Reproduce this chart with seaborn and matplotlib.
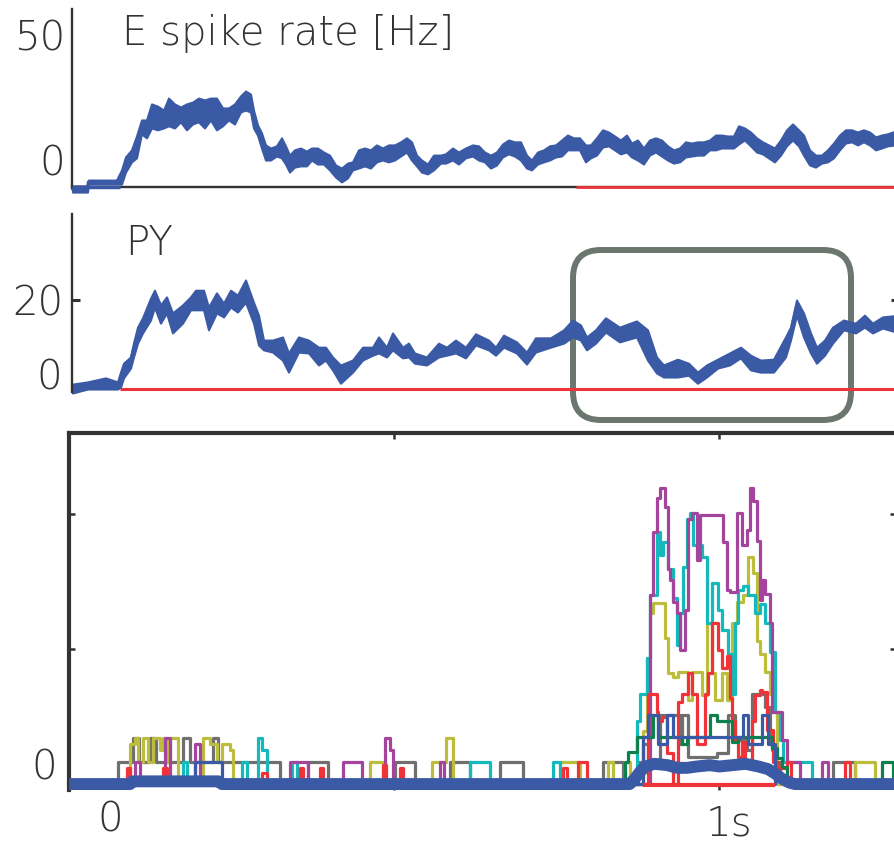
import matplotlib
matplotlib.use("Agg")
import matplotlib.pyplot as plt
import seaborn as sns
import numpy as np
import pandas as pd
from matplotlib.patches import FancyBboxPatch
from matplotlib.transforms import IdentityTransform

# ---------------- data ----------------
# top panel: E spike rate, min/max envelope of the noisy trace (time in ms, rate in Hz)
e_t = [0, 15, 16, 44, 49, 53, 59, 64, 69, 74,
       79, 85, 91, 96, 102, 108, 114, 120, 126, 132,
       138, 144, 150, 156, 162, 168, 173, 178, 181, 185,
       189, 193, 198, 204, 209, 213, 217, 222, 228, 234,
       239, 245, 251, 257, 263, 269, 275, 280, 286, 292,
       298, 304, 310, 316, 322, 328, 334, 339, 344, 349,
       355, 361, 368, 373, 380, 386, 393, 400, 406, 412,
       418, 424, 430, 436, 442, 448, 454, 459, 465, 471,
       477, 483, 489, 495, 501, 507, 513, 518, 524, 530,
       536, 542, 548, 554, 559, 565, 571, 577, 583, 589,
       595, 601, 607, 613, 619, 625, 631, 637, 643, 649,
       655, 661, 666, 672, 678, 684, 690, 696, 702, 708,
       714, 720, 726, 731, 737, 743, 749, 755, 761, 767,
       773, 779, 785, 791, 797, 803, 809, 815, 823]
e_hi = [1.0, 1.0, 2.9, 2.9, 6.2, 10.4, 12.7, 17.2, 22.4, 22.4,
        27.6, 26.9, 25.6, 29.5, 27.6, 26.6, 27.6, 28.2, 29.5, 28.9,
        29.5, 29.5, 26.3, 26.3, 27.6, 30.2, 31.8, 30.8, 25.6, 20.8,
        18.2, 14.3, 13.3, 14.0, 16.6, 14.0, 11.0, 12.7, 13.3, 12.3,
        13.3, 13.3, 12.0, 11.0, 7.8, 6.8, 8.4, 8.8, 12.7, 13.3,
        12.7, 14.3, 13.3, 14.3, 14.3, 15.3, 16.6, 15.3, 11.0, 9.4,
        8.1, 11.0, 11.0, 11.4, 13.3, 12.0, 13.3, 14.3, 14.0, 12.0,
        11.0, 12.0, 14.6, 15.9, 15.3, 15.3, 11.0, 9.4, 12.0, 12.7,
        14.0, 14.3, 15.9, 17.5, 16.6, 16.6, 14.3, 14.3, 16.6, 19.2,
        18.5, 17.2, 15.9, 17.5, 14.9, 15.9, 13.3, 15.9, 16.6, 15.9,
        14.0, 12.7, 13.3, 15.3, 14.9, 15.3, 15.3, 15.9, 17.5, 17.5,
        17.2, 17.2, 20.5, 19.8, 18.5, 16.6, 15.3, 14.3, 13.3, 15.9,
        19.2, 21.1, 19.2, 17.5, 12.7, 11.0, 11.0, 12.7, 14.9, 17.5,
        19.2, 19.2, 18.5, 19.2, 18.5, 16.9, 17.5, 17.9, 18.8]
e_lo = [-1.0, -1.0, 1.6, 1.6, 1.6, 5.5, 8.8, 10.1, 17.9, 16.6,
        19.8, 19.2, 19.8, 20.5, 19.8, 21.8, 19.2, 21.1, 21.8, 19.8,
        22.4, 19.2, 20.5, 22.4, 21.1, 25.0, 25.6, 25.0, 19.8, 17.5,
        13.3, 9.4, 9.4, 10.7, 10.1, 8.1, 5.5, 7.1, 7.5, 7.5,
        9.4, 8.1, 8.1, 6.2, 3.9, 2.3, 3.6, 6.2, 6.8, 7.5,
        6.8, 8.8, 9.4, 8.8, 9.4, 10.7, 12.0, 9.4, 7.5, 5.5,
        4.9, 6.2, 8.4, 8.4, 9.4, 8.1, 10.1, 10.7, 9.4, 8.8,
        6.8, 7.8, 10.4, 11.4, 10.7, 9.4, 6.8, 6.2, 8.1, 8.8,
        9.4, 10.4, 10.7, 12.7, 12.7, 12.7, 8.8, 10.1, 11.0, 13.6,
        14.0, 12.7, 11.4, 12.0, 10.4, 9.4, 8.1, 11.0, 12.0, 10.7,
        9.4, 8.4, 8.8, 10.4, 10.7, 11.0, 11.0, 12.7, 12.7, 13.3,
        13.3, 13.3, 14.6, 15.9, 14.0, 12.0, 11.4, 10.1, 8.8, 11.0,
        14.0, 15.9, 14.0, 11.0, 7.8, 7.1, 8.4, 8.8, 10.1, 12.7,
        14.9, 15.3, 14.3, 15.3, 14.3, 12.7, 13.3, 14.0, 14.3]
e_pre_end = 48      # blue marker on the time axis
e_stim_on = 504     # red marker on the time axis

# middle panel: PY rate envelope (ms, Hz)
py_t = [0, 15, 33, 45, 48, 51, 58, 61, 65, 70,
        78, 82, 88, 94, 100, 110, 118, 123, 131, 136,
        144, 151, 158, 165, 173, 181, 186, 191, 200, 210,
        216, 226, 236, 246, 253, 260, 268, 280, 290, 300,
        306, 314, 320, 330, 336, 342, 354, 366, 374, 383,
        393, 403, 416, 423, 431, 444, 454, 463, 478, 491,
        500, 508, 514, 523, 533, 547, 564, 575, 584, 591,
        605, 616, 625, 634, 645, 657, 668, 678, 688, 701,
        713, 718, 724, 731, 738, 744, 752, 760, 771, 783,
        792, 800, 810, 827]
py_hi = [1.1, 1.6, 2.5, 1.6, 3.8, 5.8, 7.2, 10.3, 13.9, 16.0,
         20.4, 22.2, 18.9, 20.7, 17.1, 18.9, 20.7, 22.2, 22.2, 18.4,
         21.6, 19.3, 22.2, 21.1, 24.5, 19.5, 16.6, 11.0, 11.0, 11.7,
         8.1, 11.7, 11.0, 9.4, 9.4, 7.2, 5.4, 6.5, 9.4, 9.4,
         11.7, 9.4, 12.6, 9.4, 10.3, 8.1, 7.2, 10.3, 9.4, 11.0,
         9.4, 12.4, 11.0, 9.4, 12.1, 10.6, 8.3, 11.5, 11.5, 13.3,
         15.5, 14.4, 11.7, 13.3, 16.0, 13.9, 15.3, 13.3, 7.2, 5.4,
         6.7, 5.8, 3.8, 5.4, 6.7, 8.1, 9.4, 7.6, 6.5, 6.7,
         11.7, 13.9, 20.0, 17.1, 12.6, 9.4, 11.0, 13.9, 15.5, 14.8,
         16.6, 14.8, 16.2, 16.6]
py_lo = [-0.9, 0.0, 0.0, 0.0, 0.4, 2.5, 4.7, 7.2, 10.3, 12.6,
         15.5, 18.4, 14.8, 17.1, 12.6, 14.8, 17.8, 17.8, 17.8, 13.3,
         17.1, 16.2, 18.4, 17.3, 19.5, 14.8, 9.9, 8.8, 8.3, 6.5,
         3.8, 8.3, 8.1, 5.4, 6.5, 4.3, 1.3, 3.8, 6.5, 7.6,
         8.1, 7.2, 8.8, 7.0, 7.2, 5.8, 5.4, 7.2, 7.6, 8.1,
         7.0, 9.9, 8.8, 7.6, 9.4, 8.1, 5.6, 8.3, 9.4, 10.3,
         11.7, 11.0, 8.8, 10.3, 12.8, 10.6, 11.7, 6.5, 3.6, 2.7,
         2.7, 3.1, 1.3, 2.7, 4.7, 5.4, 7.0, 4.3, 3.8, 3.8,
         7.2, 11.0, 16.6, 11.7, 8.1, 5.8, 7.6, 10.3, 13.3, 12.6,
         13.9, 12.6, 13.7, 12.6]
py_stim_on = 48

# bottom panel: single-cell rates (ms, Hz), value holds until next time
purple_t = [0, 101, 109, 148, 155, 194, 201, 340, 367, 421,
            450, 486, 494, 498, 570, 576, 893, 898, 904, 909,
            916, 921, 924, 929, 935, 939, 947, 952, 958, 966,
            970, 1006, 1012, 1016, 1027, 1035, 1042, 1047, 1052, 1058,
            1062, 1066, 1070, 1078, 1081, 1096, 1104, 1124, 1158, 1167]
purple_v = [0, 16, 0, 34, 0, 30, 0, 16, 0, 16,
            0, 34, 25, 0, 16, 0, 140, 187, 212, 219,
            205, 159, 151, 135, 127, 99, 129, 196, 201, 166,
            199, 179, 144, 142, 201, 177, 188, 219, 210, 180,
            136, 151, 141, 119, 53, 33, 16, 0, 16, 0]
cyan_t = [0, 175, 181, 266, 274, 291, 297, 304, 343, 351,
          617, 647, 744, 755, 873, 878, 889, 893, 904, 909,
          913, 921, 929, 935, 939, 944, 950, 955, 959, 973,
          981, 989, 998, 1004, 1013, 1019, 1024, 1029, 1036, 1044,
          1055, 1062, 1070, 1078, 1085, 1093, 1098, 1142]
cyan_v = [0, 16, 0, 16, 0, 34, 25, 0, 16, 0,
          16, 0, 16, 0, 47, 67, 93, 140, 187, 170,
          179, 159, 138, 103, 127, 161, 196, 201, 177, 168,
          119, 149, 129, 114, 96, 67, 119, 144, 147, 140,
          127, 133, 119, 98, 53, 33, 16, 0]
yellow_t = [0, 94, 101, 106, 114, 121, 129, 140, 145, 151,
            155, 168, 206, 217, 228, 235, 248, 252, 463, 483,
            558, 580, 590, 755, 786, 829, 836, 855, 862, 883,
            889, 893, 898, 916, 921, 929, 936, 952, 958, 973,
            981, 989, 993, 1004, 1012, 1019, 1027, 1036, 1044, 1052,
            1058, 1062, 1070, 1078, 1082, 1088, 1208, 1239]
yellow_v = [0, 30, 34, 16, 34, 16, 34, 25, 34, 16,
            34, 0, 34, 30, 16, 30, 25, 0, 16, 0,
            16, 34, 0, 16, 0, 16, 0, 16, 0, 39,
            93, 127, 134, 108, 82, 79, 83, 62, 83, 66,
            119, 82, 62, 82, 62, 119, 135, 140, 168, 156,
            106, 96, 83, 67, 53, 0, 16, 0]
gray_t = [0, 75, 98, 108, 125, 134, 175, 186, 221, 229,
          324, 367, 398, 501, 532, 586, 617, 663, 698, 821,
          852, 875, 883, 890, 909, 939, 942, 952, 996, 1013,
          1024, 1042, 1050, 1070, 1078, 1081, 1085, 1093, 1175, 1208]
gray_v = [0, 16, 34, 16, 34, 16, 34, 16, 34, 16,
          0, 16, 0, 16, 0, 16, 0, 16, 0, 16,
          0, 16, 30, 16, 51, 30, 51, 20, 23, 51,
          33, 25, 67, 57, 30, 25, 16, 0, 16, 0]
red_t = [0, 89, 94, 145, 151, 297, 304, 355, 360, 386,
         390, 483, 488, 509, 514, 760, 766, 783, 797, 890,
         904, 906, 912, 919, 929, 936, 942, 952, 958, 966,
         978, 982, 989, 998, 1004, 1012, 1016, 1019, 1024, 1029,
         1035, 1039, 1050, 1055, 1062, 1066, 1073, 1082, 1090, 1104,
         1110, 1193, 1201]
red_v = [0, 12, 0, 12, 0, 8, 0, 12, 0, 12,
         0, 14, 0, 12, 0, 12, 0, 16, 0, 67,
         53, 47, 50, 23, 0, 61, 67, 82, 67, 30,
         67, 82, 119, 99, 86, 95, 64, 47, 33, 20,
         31, 15, 47, 66, 70, 68, 40, 16, 12, 16,
         0, 16, 0]
green_t = [0, 855, 859, 873, 898, 906, 942, 950, 985, 996,
           1019, 1029, 1081, 1088, 1096, 1104, 1250, 1267]
green_v = [0, 16, 24, 35, 51, 35, 30, 35, 51, 47,
           31, 35, 27, 19, 13, 0, 16, 0]
bthin_t = [0, 194, 235, 883, 890, 906, 919, 929, 1036, 1044, 1066, 1075, 1085]
bthin_v = [0, 16, 0, 35, 51, 30, 51, 35, 51, 30, 51, 30, 0]
# population mean
mean_t = [0, 94, 98, 230, 235, 862, 870, 878, 886, 900, 920, 935, 950,
          965, 985, 1000, 1020, 1040, 1060, 1075, 1085, 1096, 1108, 1116, 1271]
mean_v = [0, 0, 2, 2, 0, 0, 4, 9, 13, 15, 14, 12, 12,
          13, 14, 13, 14, 15, 13, 11, 8, 4, 1, 0, 0]
stim_window = (883, 1085)

# ---------------- style ----------------
INK = '#333333'
BLUE = '#3b5aa6'
RED = '#ee3338'
BOX = '#6b776e'
FS = 29
FW = 200   # thin strokes like the original

sns.set_theme(style='white')
plt.rcParams['font.family'] = ['DejaVu Sans']
plt.rcParams['text.color'] = INK

fig = plt.figure(figsize=(8.95, 8.42), dpi=100)
W, H = 895.0, 842.0

# ---- top panel ----
ax1 = fig.add_axes([72.5 / W, 1 - 187 / H, 826.5 / W, 178 / H])
ax1.set_facecolor('none')
ax1.fill_between(e_t, e_lo, e_hi, color=BLUE, lw=1.5, clip_on=False, zorder=2)
e_mid = (np.array(e_lo) + np.array(e_hi)) / 2
sns.lineplot(x=e_t, y=e_mid, color=BLUE, lw=2.5, ax=ax1, clip_on=False, zorder=2)
ax1.set_xlim(0, 826.5)
ax1.set_ylim(0.65, 58.4)
for s in ['top', 'right']:
    ax1.spines[s].set_visible(False)
for s in ['left', 'bottom']:
    ax1.spines[s].set_color(INK)
    ax1.spines[s].set_linewidth(1.7)
ax1.hlines(0.65, e_stim_on, 826.5, color=RED, lw=2.0, zorder=4, clip_on=False)
ax1.hlines(0.65, 0, e_pre_end, color=BLUE, lw=2.5, zorder=4, clip_on=False)
ax1.set_xticks([])
ax1.set_yticks([50])
ax1.set_yticklabels(['50'], fontweight=FW)
ax1.tick_params(axis='y', left=True, length=0, pad=5.4, labelsize=FS, labelcolor=INK)
ax1.set_xlabel('')
ax1.set_ylabel('')

# ---- middle panel ----
ax2 = fig.add_axes([72.5 / W, 1 - 392 / H, 826.5 / W, 178 / H])
ax2.set_facecolor('none')
ax2.fill_between(py_t, py_lo, py_hi, color=BLUE, lw=1.5, clip_on=False, zorder=2)
py_mid = (np.array(py_lo) + np.array(py_hi)) / 2
sns.lineplot(x=py_t, y=py_mid, color=BLUE, lw=2.5, ax=ax2, clip_on=False, zorder=2)
ax2.hlines(0, py_stim_on, 826.5, color=RED, lw=2.2, zorder=1.5)
ax2.set_xlim(0, 826.5)
ax2.set_ylim(-0.67, 39.33)
for s in ['top', 'right', 'bottom']:
    ax2.spines[s].set_visible(False)
ax2.spines['left'].set_color(INK)
ax2.spines['left'].set_linewidth(1.7)
ax2.set_xticks([])
ax2.set_yticks([20])
ax2.set_yticklabels(['20'], fontweight=FW)
ax2.tick_params(axis='y', direction='in', left=True, right=True, length=5.8,
                width=2.2, color=INK, pad=6.8, labelsize=FS, labelcolor=INK)
ax2.set_xlabel('')
ax2.set_ylabel('')

# highlight box
box = FancyBboxPatch((573, H - 420), 278, 170,
                     boxstyle='round,pad=0,rounding_size=28',
                     transform=IdentityTransform(), fc='none', ec=BOX,
                     lw=4.3, zorder=-1)
fig.add_artist(box)

# ---- bottom panel ----
ax3 = fig.add_axes([69 / W, 1 - 790 / H, 827 / W, 357 / H])
cells = pd.concat([
    pd.DataFrame({'cell': name, 't': t, 'rate': v})
    for name, t, v in [('gray', gray_t, gray_v), ('yellow', yellow_t, yellow_v),
                       ('cyan', cyan_t, cyan_v), ('purple', purple_t, purple_v),
                       ('red', red_t, red_v), ('green', green_t, green_v),
                       ('blue', bthin_t, bthin_v)]
])
pal = {'gray': '#6f6f6f', 'yellow': '#bcbd3c', 'cyan': '#14b9bb',
       'purple': '#a4449c', 'red': '#ef3339', 'green': '#0e804b', 'blue': BLUE}
sns.lineplot(data=cells, x='t', y='rate', hue='cell',
             hue_order=['gray', 'yellow', 'cyan', 'purple', 'red', 'green', 'blue'],
             palette=pal, drawstyle='steps-post', lw=2.3, estimator=None,
             legend=False, ax=ax3, zorder=2)
sns.lineplot(x=mean_t, y=mean_v, color=BLUE, lw=8.6, ax=ax3, zorder=5,
             solid_capstyle='butt')
ax3.hlines(-1, stim_window[0], stim_window[1], color=RED, lw=3, zorder=6)
ax3.set_xlim(0, 1271.5)
ax3.set_ylim(-4.4, 260)
ax3.spines['bottom'].set_visible(False)
for s in ['top', 'left', 'right']:
    ax3.spines[s].set_color(INK)
    ax3.spines[s].set_linewidth(3)
ax3.set_xticks([500, 1000])
ax3.set_yticks([100, 200])
ax3.tick_params(axis='x', direction='in', top=True, bottom=True, length=4.3,
                width=1.8, color=INK, labelbottom=False)
ax3.tick_params(axis='y', direction='in', left=True, right=True, length=4.3,
                width=1.8, color=INK, labelleft=False)
ax3.set_xlabel('')
ax3.set_ylabel('')

# ---- texts ----
txt = dict(fontsize=FS, fontweight=FW, color=INK, va='baseline')
fig.text(122 / W, 1 - 45 / H, 'E spike rate [Hz]', **txt)
fig.text(125 / W, 1 - 255 / H, 'PY', **txt)
fig.text(65 / W, 1 - 175 / H, '0', ha='right', **txt)
fig.text(62 / W, 1 - 390 / H, '0', ha='right', **txt)
fig.text(57 / W, 1 - 780 / H, '0', ha='right', **txt)
fig.text(110 / W, 1 - 832 / H, '0', ha='center', **txt)
fig.text(729 / W, 1 - 835 / H, '1s', ha='center', **txt)

fig.savefig('out.png', dpi=100)
